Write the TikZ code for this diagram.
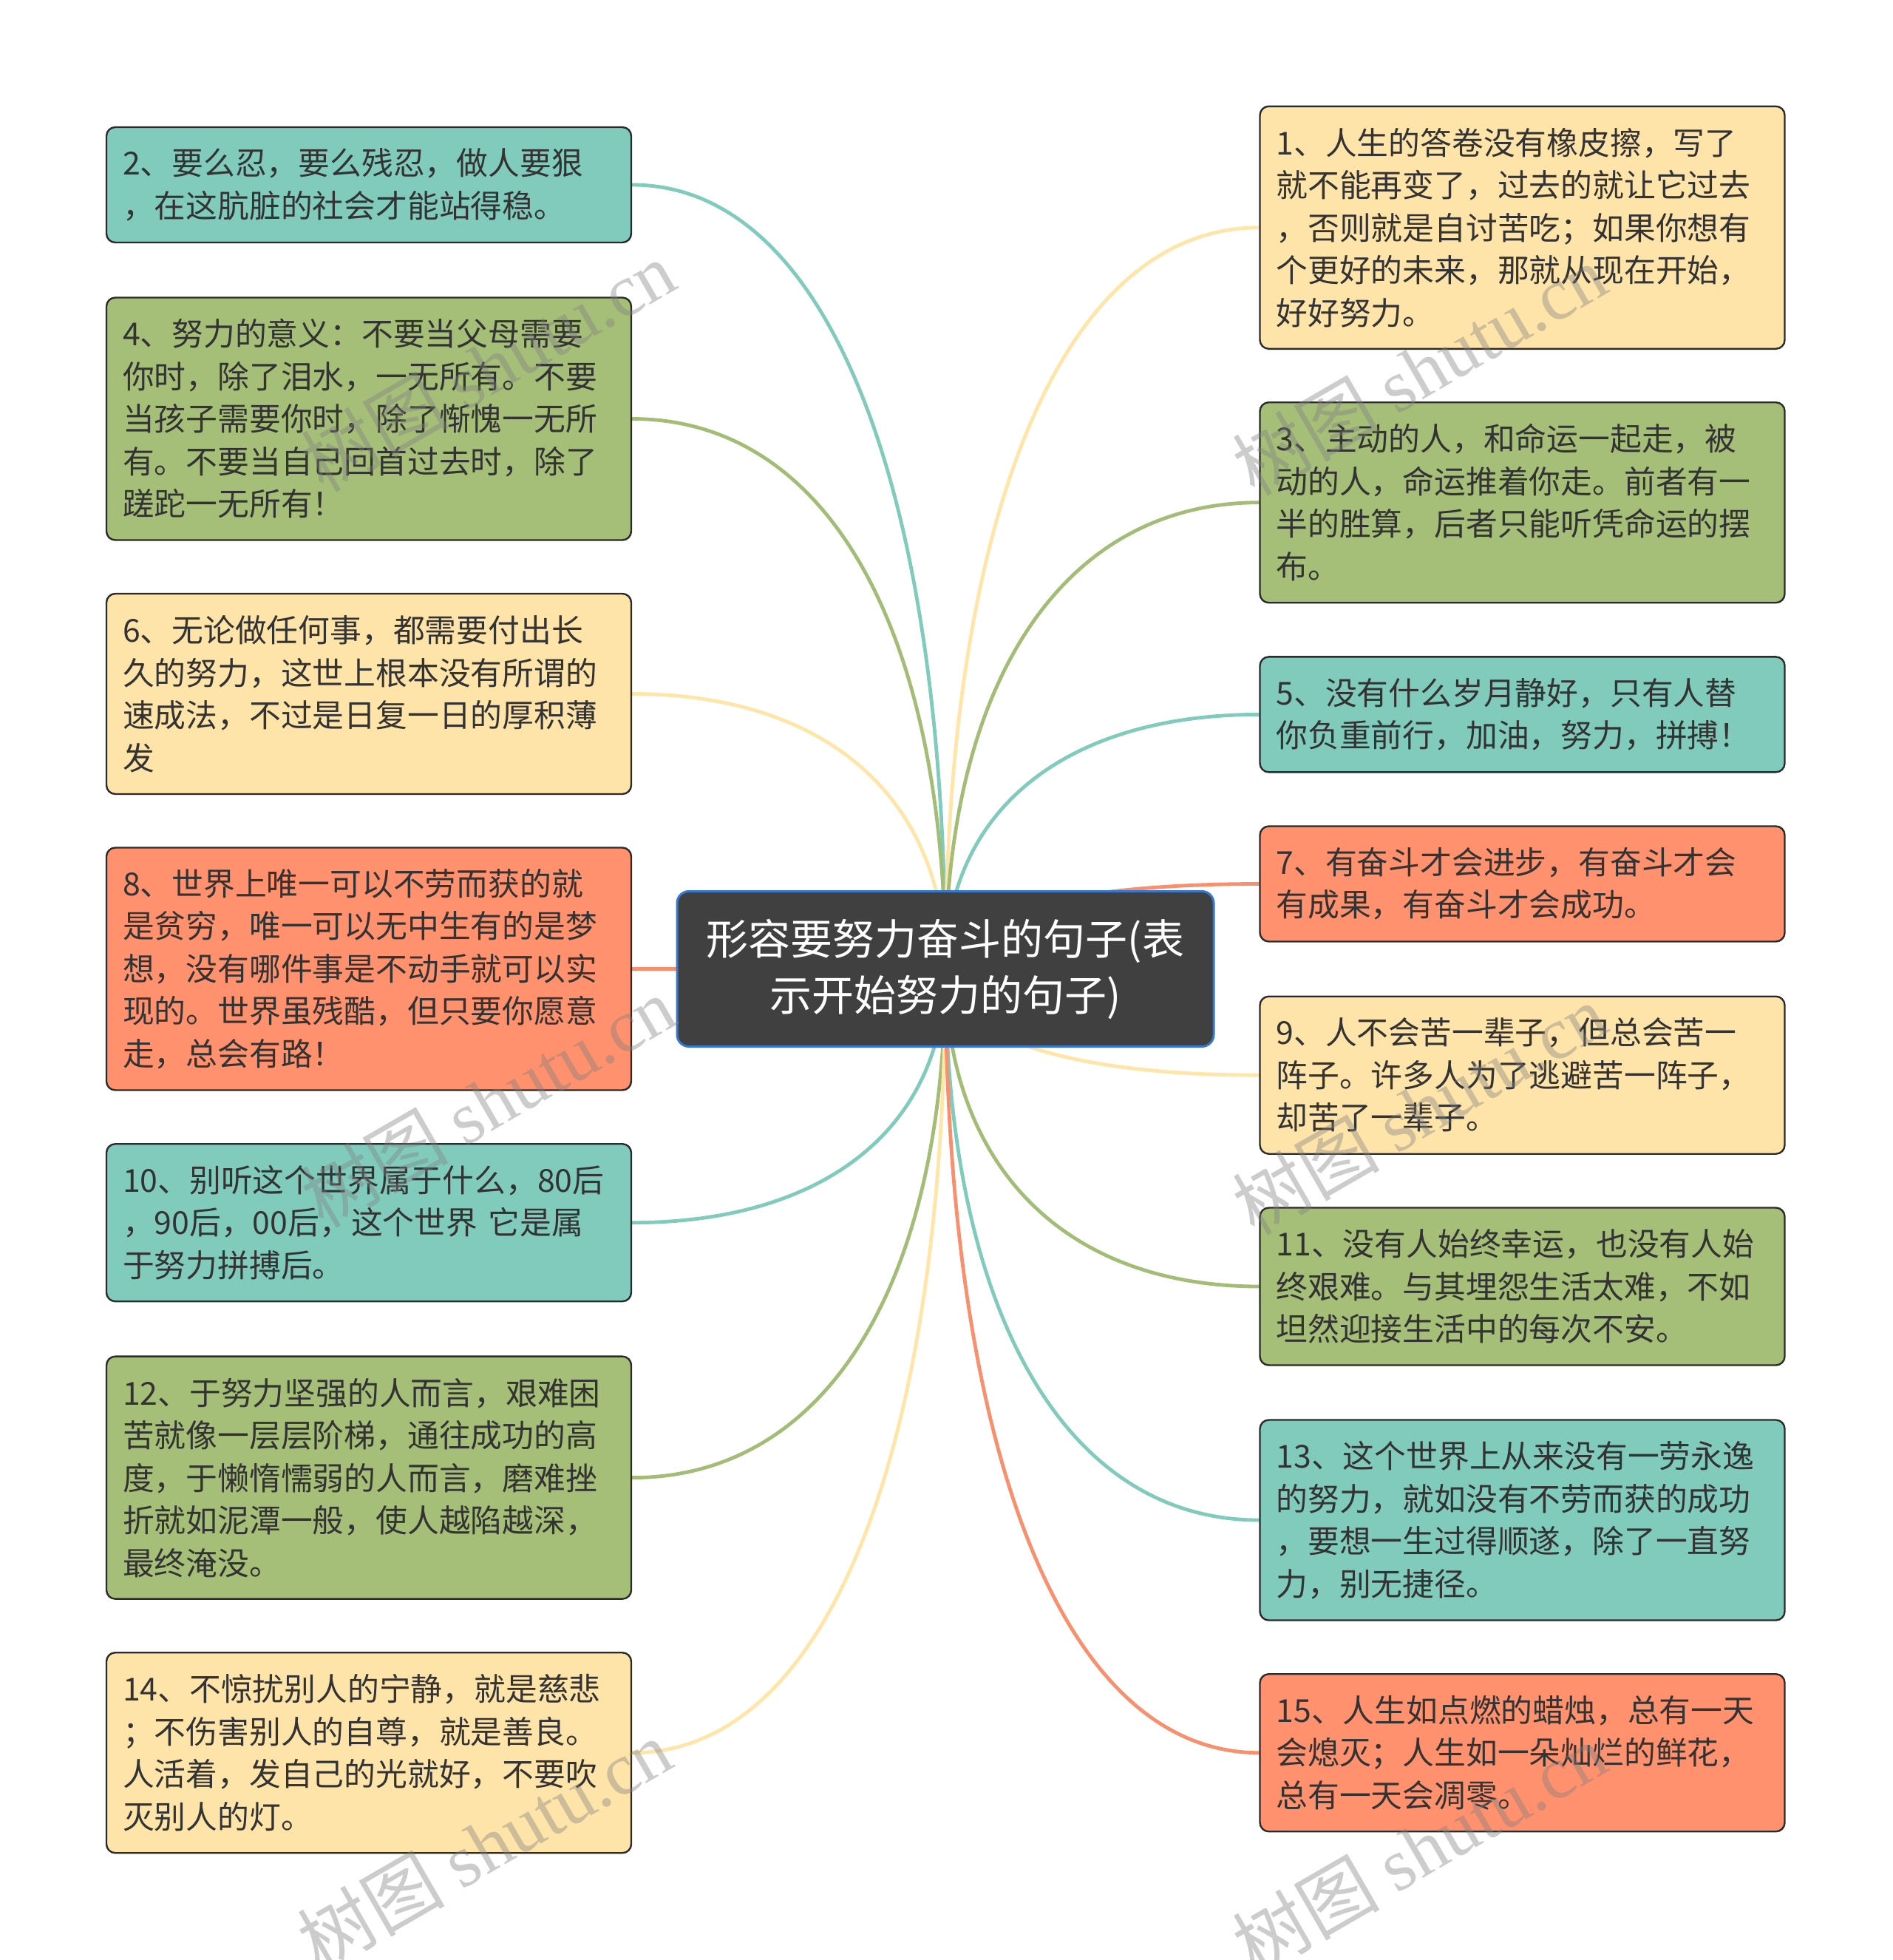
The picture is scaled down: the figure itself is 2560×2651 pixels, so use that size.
\documentclass[tikz,border=0pt]{standalone}
\usepackage{fontspec}
\setmainfont{Noto Sans CJK SC}
\newfontfamily\wmlatin{Liberation Serif}
\newfontfamily\wmcjk{Noto Sans CJK SC}
\usetikzlibrary{calc,backgrounds}
\definecolor{cTeal}{HTML}{81CBBD}
\definecolor{cGreen}{HTML}{A6BF78}
\definecolor{cYellow}{HTML}{FFE4AA}
\definecolor{cOrange}{HTML}{FF916E}
\definecolor{lTeal}{HTML}{81CBBD}
\definecolor{lGreen}{HTML}{A3BC76}
\definecolor{lYellow}{HTML}{FFE5A8}
\definecolor{lOrange}{HTML}{F98F6D}
\definecolor{cDark}{HTML}{404040}
\definecolor{cBlue}{HTML}{3478D2}
\definecolor{cBorder}{HTML}{2B2B2B}
\definecolor{cText}{HTML}{333333}
\definecolor{cWm}{HTML}{808080}
\tikzset{
  box/.style={draw=cBorder, line width=1.2pt, rounded corners=6pt, text=cText,
    align=left, text width=333pt, inner xsep=11pt, inner ysep=0pt,
    minimum width=355pt, font=\fontsize{21.4pt}{28.75pt}\selectfont},
  ltwo/.style={minimum height=78pt},
  lthree/.style={minimum height=106.5pt},
  lfour/.style={minimum height=135.5pt},
  lfive/.style={minimum height=164pt},
  tbox/.style={box, fill=cTeal},
  gbox/.style={box, fill=cGreen},
  ybox/.style={box, fill=cYellow},
  obox/.style={box, fill=cOrange},
  rootbox/.style={fill=cDark, draw=cBlue, line width=1.5pt, rounded corners=8pt,
    text=white, align=center, minimum width=363pt, minimum height=105pt,
    inner sep=0pt, font=\fontsize{28.5pt}{38pt}\selectfont},
  link/.style={line width=2.4pt},
  wm/.style={text=cWm, text opacity=0.4, rotate=30, inner sep=0pt,
    font=\fontsize{50pt}{60pt}\selectfont},
}
\newcommand\mmlink[3]{%
  \coordinate (#3) at (ctr.center |- #2);
  \draw[link,#1] (ctr.center) .. controls ($(ctr.center)!0.62!(#3)$) and ($(#2)!0.62!(#3)$) .. (#2);}
\begin{document}
\begin{tikzpicture}[x=0.5pt,y=-0.5pt]
\useasboundingbox (0,0) rectangle (2560,2651);
% central topic
\node[rootbox] (ctr) at (1279,1310.5) {形容要努力奋斗的句子(表\\示开始努力的句子)};
% left column
\node[tbox,ltwo] (b2) at (499,250) {2、要么忍，要么残忍，做人要狠\\，在这肮脏的社会才能站得稳。};
\node[gbox,lfive] (b4) at (499,566.5) {4、努力的意义：不要当父母需要\\你时，除了泪水，一无所有。不要\\当孩子需要你时，除了惭愧一无所\\有。不要当自己回首过去时，除了\\蹉跎一无所有！};
\node[ybox,lfour] (b6) at (499,938.5) {6、无论做任何事，都需要付出长\\久的努力，这世上根本没有所谓的\\速成法，不过是日复一日的厚积薄\\发};
\node[obox,lfive] (b8) at (499,1310.5) {8、世界上唯一可以不劳而获的就\\是贫穷，唯一可以无中生有的是梦\\想，没有哪件事是不动手就可以实\\现的。世界虽残酷，但只要你愿意\\走，总会有路！};
\node[tbox,lthree] (b10) at (499,1653.7) {10、别听这个世界属于什么，80后\\，90后，00后，这个世界 它是属\\于努力拼搏后。};
\node[gbox,lfive] (b12) at (499,1998.6) {12、于努力坚强的人而言，艰难困\\苦就像一层层阶梯，通往成功的高\\度，于懒惰懦弱的人而言，磨难挫\\折就如泥潭一般，使人越陷越深，\\最终淹没。};
\node[ybox,lfour] (b14) at (499,2370.7) {14、不惊扰别人的宁静，就是慈悲\\；不伤害别人的自尊，就是善良。\\人活着，发自己的光就好，不要吹\\灭别人的灯。};
% right column
\node[ybox,lfive] (b1) at (2059.5,307.8) {1、人生的答卷没有橡皮擦，写了\\就不能再变了，过去的就让它过去\\，否则就是自讨苦吃；如果你想有\\个更好的未来，那就从现在开始，\\好好努力。};
\node[gbox,lfour] (b3) at (2059.5,679.7) {3、主动的人，和命运一起走，被\\动的人，命运推着你走。前者有一\\半的胜算，后者只能听凭命运的摆\\布。};
\node[tbox,ltwo] (b5) at (2059.5,966.4) {5、没有什么岁月静好，只有人替\\你负重前行，加油，努力，拼搏！};
\node[obox,ltwo] (b7) at (2059.5,1195.5) {7、有奋斗才会进步，有奋斗才会\\有成果，有奋斗才会成功。};
\node[ybox,lthree] (b9) at (2059.5,1454.2) {9、人不会苦一辈子，但总会苦一\\阵子。许多人为了逃避苦一阵子，\\却苦了一辈子。};
\node[gbox,lthree] (b11) at (2059.5,1740) {11、没有人始终幸运，也没有人始\\终艰难。与其埋怨生活太难，不如\\坦然迎接生活中的每次不安。};
\node[tbox,lfour] (b13) at (2059.5,2056) {13、这个世界上从来没有一劳永逸\\的努力，就如没有不劳而获的成功\\，要想一生过得顺遂，除了一直努\\力，别无捷径。};
\node[obox,lthree] (b15) at (2059.5,2370.7) {15、人生如点燃的蜡烛，总有一天\\会熄灭；人生如一朵灿烂的鲜花，\\总有一天会凋零。};
% connectors
\begin{pgfonlayer}{background}
\fill[white] (0,0) rectangle (2560,2651);
\mmlink{lTeal}{b2.east}{k2}
\mmlink{lGreen}{b4.east}{k4}
\mmlink{lYellow}{b6.east}{k6}
\mmlink{lOrange}{b8.east}{k8}
\mmlink{lTeal}{b10.east}{k10}
\mmlink{lGreen}{b12.east}{k12}
\mmlink{lYellow}{b14.east}{k14}
\mmlink{lYellow}{b1.west}{k1}
\mmlink{lGreen}{b3.west}{k3}
\mmlink{lTeal}{b5.west}{k5}
\mmlink{lOrange}{b7.west}{k7}
\mmlink{lYellow}{b9.west}{k9}
\mmlink{lGreen}{b11.west}{k11}
\mmlink{lTeal}{b13.west}{k13}
\mmlink{lOrange}{b15.west}{k15}
\end{pgfonlayer}
% watermarks
\node[wm] (w1) at (660,495) {{\wmcjk 树图} {\wmlatin shutu.cn}};
\node[wm] (w2) at (660,1490) {{\wmcjk 树图} {\wmlatin shutu.cn}};
\node[wm] (w3) at (655,2495) {{\wmcjk 树图} {\wmlatin shutu.cn}};
\node[wm] (w4) at (1920,500) {{\wmcjk 树图} {\wmlatin shutu.cn}};
\node[wm] (w5) at (1920,1500) {{\wmcjk 树图} {\wmlatin shutu.cn}};
\node[wm] (w6) at (1920,2500) {{\wmcjk 树图} {\wmlatin shutu.cn}};
\end{tikzpicture}
\end{document}
